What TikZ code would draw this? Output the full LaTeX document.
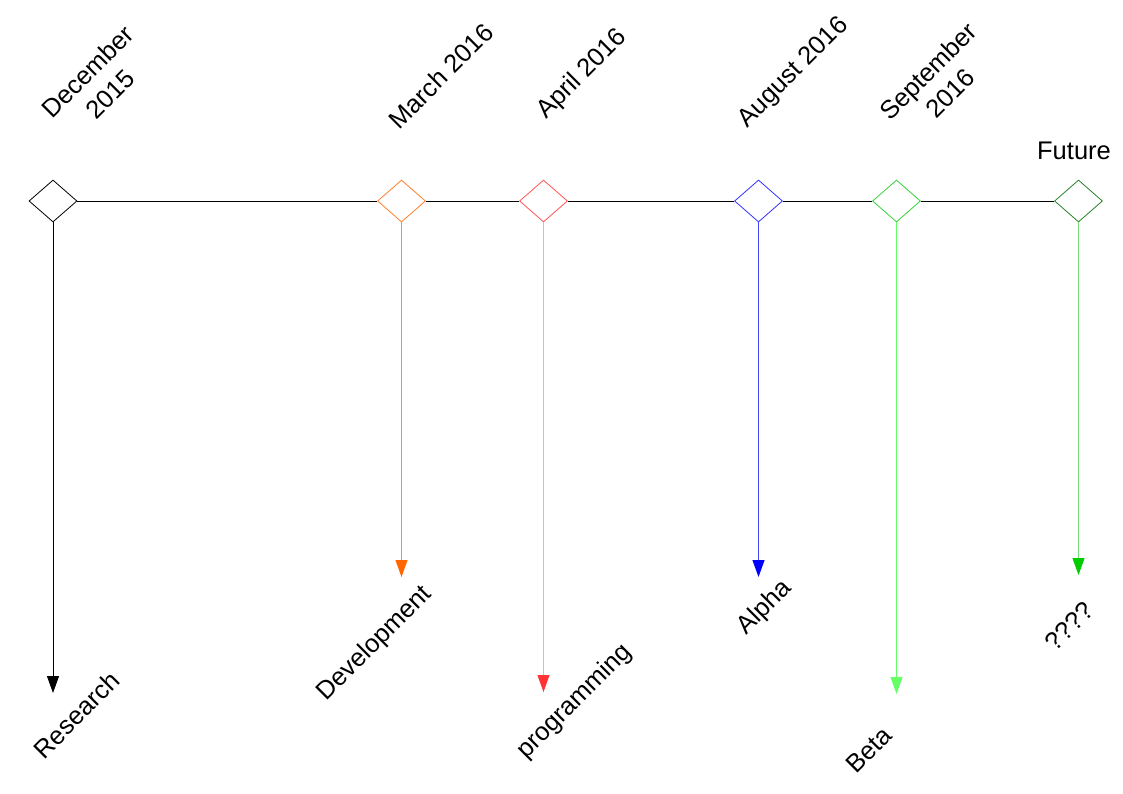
\documentclass[tikz,border=0pt]{standalone}
\usepackage{fontspec}
\setmainfont{Liberation Sans}
\usepackage{tikz}
\usetikzlibrary{arrows.meta, positioning, shapes.geometric}
\definecolor{resblack}{RGB}{0, 0, 0}
\definecolor{devorange}{RGB}{255, 102, 0}
\definecolor{devline}{RGB}{255, 140, 60}
\definecolor{devdiamond}{RGB}{255, 128, 48}
\definecolor{progred}{RGB}{255, 51, 51}
\definecolor{progline}{RGB}{255, 170, 170}
\definecolor{progdiamond}{RGB}{255, 85, 85}
\definecolor{alphablue}{RGB}{0, 0, 255}
\definecolor{alphaline}{RGB}{70, 70, 255}
\definecolor{alphadiamond}{RGB}{51, 51, 255}
\definecolor{betagreen}{RGB}{102, 255, 102}
\definecolor{betadiamond}{RGB}{51, 210, 51}
\definecolor{futgreen}{RGB}{0, 204, 0}
\definecolor{futline}{RGB}{120, 220, 120}
\definecolor{futdiamond}{RGB}{40, 130, 40}

\begin{document}
\begin{tikzpicture}[
    x=1pt, y=-1pt,
    milestone/.style={draw=#1, diamond, inner sep=0pt, minimum width=48pt,
                      minimum height=42pt, line width=0.8pt, fill=white},
    date/.style={rotate=45, align=center, inner sep=0pt,
                 font=\fontsize{25.5}{32}\selectfont},
    phase/.style={rotate=45, inner sep=0pt, font=\fontsize{25.5}{29}\selectfont},
    arr/.style={line width=1pt, -{Triangle[length=17pt, width=12pt, color=#1]}}
]
\useasboundingbox (0,0) rectangle (1123,794);
% Milestones
\node[milestone=resblack] (m1) at (53,201) {};
\node[milestone=devdiamond] (m2) at (401.5,201) {};
\node[milestone=progdiamond] (m3) at (543.5,201) {};
\node[milestone=alphadiamond] (m4) at (758.5,201) {};
\node[milestone=betadiamond] (m5) at (896.5,201) {};
\node[milestone=futdiamond] (m6) at (1078.5,201) {};
% Dates
\node[date] (t1) at (99,83) {December\\2015};
\node[date] (t2) at (441,76) {March 2016};
\node[date] (t3) at (582,74) {April 2016};
\node[date] (t4) at (794,73) {August 2016};
\node[date] (t5) at (939,82) {September\\2016};
\node[inner sep=0pt, font=\fontsize{25.5}{29}\selectfont] (t6) at (1074,151) {Future};
% Arrow ends
\coordinate (e1) at (53,693);
\coordinate (e2) at (401.5,577);
\coordinate (e3) at (543.5,692);
\coordinate (e4) at (758.5,577);
\coordinate (e5) at (896.5,694);
\coordinate (e6) at (1078.5,575);
% Phases
\node[phase] (p1) at (77,715) {Research};
\node[phase] (p2) at (375,644) {Development};
\node[phase] (p3) at (575,702) {programming};
\node[phase] (p4) at (765,608) {Alpha};
\node[phase] (p5) at (869,750) {Beta};
\node[phase] (p6) at (1069,626) {????};
% Timeline
\foreach \i [evaluate=\i as \j using int(\i+1)] in {1,...,5}
    \draw[line width=0.8pt] (m\i.east) -- (m\j.west);
% Phase arrows
\draw[arr=resblack, resblack] (m1.south) -- (e1);
\draw[arr=devorange, devline] (m2.south) -- (e2);
\draw[arr=progred, progline] (m3.south) -- (e3);
\draw[arr=alphablue, alphaline] (m4.south) -- (e4);
\draw[arr=betagreen, betagreen] (m5.south) -- (e5);
\draw[arr=futgreen, futline] (m6.south) -- (e6);
\end{tikzpicture}
\end{document}
